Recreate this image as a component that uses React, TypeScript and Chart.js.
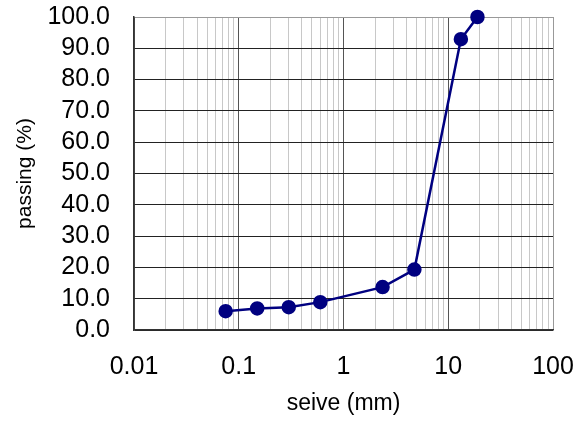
import React, { useEffect, useRef } from 'react';
import { Chart, registerables } from 'chart.js';

Chart.register(...registerables);

const sieveSizes = [0.075, 0.15, 0.3, 0.6, 2.36, 4.75, 13.2, 19];
const passingPct = [6.0, 6.9, 7.3, 8.9, 13.7, 19.3, 92.9, 100];
const xTickValues = [0.01, 0.1, 1, 10, 100];
const xTickLabels = ['0.01', '0.1', '1', '10', '100'];
const yTickValues = [0, 10, 20, 30, 40, 50, 60, 70, 80, 90, 100];
const xTitle = 'seive (mm)';
const yTitle = 'passing (%)';

const FONT = "'Liberation Sans', Arial, sans-serif";

const isDecade = (v: number) => {
  const l = Math.log10(v);
  return Math.abs(l - Math.round(l)) < 1e-9;
};

export default function App() {
  const ref = useRef<HTMLCanvasElement>(null);
  useEffect(() => {
    document.body.style.margin = '0';
    const chart = new Chart(ref.current!, {
      type: 'line',
      data: {
        datasets: [
          {
            data: sieveSizes.map((x, i) => ({ x, y: passingPct[i] })),
            borderColor: '#000080',
            backgroundColor: '#000080',
            pointBackgroundColor: '#000080',
            pointBorderColor: '#000080',
            pointRadius: 6,
            borderWidth: 2.5,
            tension: 0,
            clip: false as any,
          },
        ],
      },
      options: {
        animation: false,
        responsive: false,
        devicePixelRatio: 1,
        layout: { autoPadding: false, padding: { left: 0, right: 34, top: 17, bottom: 0 } },
        plugins: { legend: { display: false }, tooltip: { enabled: false } },
        scales: {
          x: {
            type: 'logarithmic',
            min: xTickValues[0],
            max: xTickValues[xTickValues.length - 1],
            afterBuildTicks: (s: any) => {
              const t: any[] = [];
              for (let d = 0; d < xTickValues.length - 1; d++) {
                const base = xTickValues[d];
                for (let m = 1; m <= 9; m++) t.push({ value: m === 1 ? base : m * base });
              }
              t.push({ value: xTickValues[xTickValues.length - 1] });
              s.ticks = t;
            },
            afterFit: (s: any) => {
              s.height = 93;
              s.paddingLeft = 0;
              s.paddingRight = 0;
            },
            ticks: {
              autoSkip: false,
              maxRotation: 0,
              minRotation: 0,
              padding: 22,
              color: '#000',
              font: { family: FONT, size: 25 },
              callback: (v: any) => {
                const n = Number(v);
                if (!isDecade(n)) return '';
                const i = xTickValues.findIndex((x) => Math.abs(Math.log10(x) - Math.log10(n)) < 1e-9);
                return i >= 0 ? xTickLabels[i] : '';
              },
            },
            grid: {
              drawTicks: false,
              lineWidth: 1,
              color: (ctx: any) => {
                const v = ctx.tick ? ctx.tick.value : 0;
                if (Math.abs(v - 100) < 1e-9) return '#999999';
                if (isDecade(v)) return '#555555';
                return '#c8c8c8';
              },
            },
            border: { color: '#333333', width: 1.5 },
            title: {
              display: true,
              text: xTitle,
              color: '#000',
              font: { family: FONT, size: 23 },
              padding: { top: 0, bottom: 6 },
            },
          },
          y: {
            type: 'linear',
            min: 0,
            max: 100,
            afterBuildTicks: (s: any) => {
              s.ticks = yTickValues.map((v) => ({ value: v }));
            },
            afterFit: (s: any) => {
              s.width = 134;
              s.paddingTop = 0;
              s.paddingBottom = 0;
            },
            ticks: {
              autoSkip: false,
              padding: 24,
              color: '#000',
              font: { family: FONT, size: 25 },
              callback: (v: any) => Number(v).toFixed(1),
            },
            grid: {
              drawTicks: false,
              lineWidth: 1,
              color: (ctx: any) => {
                const v = ctx.tick ? ctx.tick.value : 0;
                if (v === 100) return '#999999';
                return '#222222';
              },
            },
            border: { color: '#333333', width: 1.5 },
            title: {
              display: true,
              text: yTitle,
              color: '#000',
              font: { family: FONT, size: 21 },
              padding: { top: 13, bottom: 0 },
            },
          },
        },
      },
    });
    return () => chart.destroy();
  }, []);
  return <canvas ref={ref} width={587} height={423} style={{ display: 'block' }} />;
}
